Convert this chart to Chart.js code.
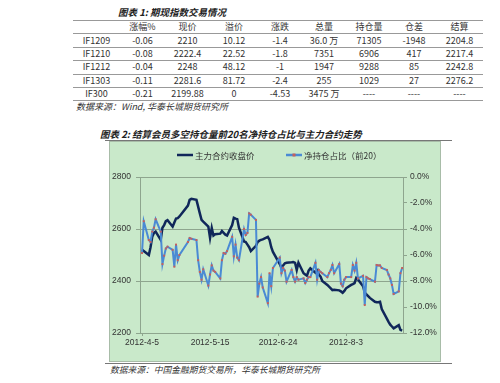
<!DOCTYPE html>
<html>
<head>
<meta charset="utf-8">
<script src="https://cdn.jsdelivr.net/npm/chart.js@4.4.0/dist/chart.umd.min.js"></script>
<style>
    body { margin: 0; width: 500px; height: 383px; background: #fff; position: relative; overflow: hidden;
           font-family: "Noto Sans CJK SC", sans-serif; color: #222; }
    .cap { position: absolute; font-weight: bold; font-style: italic; font-size: 9.5px; white-space: nowrap; line-height: 14px; }
    .src { position: absolute; font-style: italic; font-size: 9px; color: #333; white-space: nowrap; line-height: 12px; }
    table { position: absolute; left: 73px; top: 20px; width: 410px; border-collapse: collapse; table-layout: fixed; font-size: 9px; color: #333; }
    td { height: 12.4px; padding: 0; text-align: center; border-top: 1px solid #999; border-bottom: 1px solid #999; line-height: 12px; white-space: nowrap; }
    .rule { position: absolute; height: 1px; background: #777; }
    #box { position: absolute; left: 109px; top: 141px; width: 330px; height: 219px; background: #c9e9ca; border: 1px solid #a8bca8; }
</style>
</head>
<body>
<div class="cap" style="left:118px; top:5px;">图表 1: 期现指数交易情况</div>
<table>
    <colgroup>
        <col style="width:47px"><col style="width:45px"><col style="width:45px"><col style="width:48px"><col style="width:44px">
        <col style="width:44px"><col style="width:46px"><col style="width:44px"><col style="width:47px">
    </colgroup>
    <tr><td></td><td>涨幅%</td><td>现价</td><td>溢价</td><td>涨跌</td><td>总量</td><td>持仓量</td><td>仓差</td><td>结算</td></tr>
    <tr><td>IF1209</td><td>-0.06</td><td>2210</td><td>10.12</td><td>-1.4</td><td>36.0 万</td><td>71305</td><td>-1948</td><td>2204.8</td></tr>
    <tr><td>IF1210</td><td>-0.08</td><td>2222.4</td><td>22.52</td><td>-1.8</td><td>7351</td><td>6906</td><td>417</td><td>2217.4</td></tr>
    <tr><td>IF1212</td><td>-0.04</td><td>2248</td><td>48.12</td><td>-1</td><td>1947</td><td>9288</td><td>85</td><td>2242.8</td></tr>
    <tr><td>IF1303</td><td>-0.11</td><td>2281.6</td><td>81.72</td><td>-2.4</td><td>255</td><td>1029</td><td>27</td><td>2276.2</td></tr>
    <tr><td>IF300</td><td>-0.21</td><td>2199.88</td><td>0</td><td>-4.53</td><td>3475 万</td><td>----</td><td>----</td><td>----</td></tr>
</table>
<div class="src" style="left:76px; top:101px;">数据来源：Wind, 华泰长城期货研究所</div>

<div class="cap" style="left:100px; top:127px;">图表 2: 结算会员多空持仓量前20名净持仓占比与主力合约走势</div>
<div class="rule" style="left:105px; top:140px; width:347px;"></div>
<div id="box"><canvas id="myChart" width="330" height="219"></canvas></div>
<div class="rule" style="left:105px; top:363px; width:347px;"></div>
<div class="src" style="left:110px; top:364px; font-size:8.75px;">数据来源：中国金融期货交易所，华泰长城期货研究所</div>

<script>
    "use strict";

    // trading days shown on the chart
    const tradeDates = [
        '2012-04-05', '2012-04-06', '2012-04-09', '2012-04-10', '2012-04-11', '2012-04-12', '2012-04-13',
        '2012-04-16', '2012-04-17', '2012-04-18', '2012-04-19', '2012-04-20', '2012-04-23', '2012-04-24',
        '2012-04-25', '2012-04-26', '2012-04-27',
        '2012-05-02', '2012-05-03', '2012-05-04', '2012-05-07', '2012-05-08', '2012-05-09', '2012-05-10',
        '2012-05-11', '2012-05-14', '2012-05-15', '2012-05-16', '2012-05-17', '2012-05-18', '2012-05-21',
        '2012-05-22', '2012-05-23', '2012-05-24', '2012-05-25', '2012-05-28', '2012-05-29', '2012-05-30',
        '2012-05-31',
        '2012-06-01', '2012-06-04', '2012-06-05', '2012-06-06', '2012-06-07', '2012-06-08', '2012-06-11',
        '2012-06-12', '2012-06-13', '2012-06-14', '2012-06-15', '2012-06-18', '2012-06-19', '2012-06-20',
        '2012-06-21', '2012-06-25', '2012-06-26', '2012-06-27', '2012-06-28', '2012-06-29',
        '2012-07-02', '2012-07-03', '2012-07-04', '2012-07-05', '2012-07-06', '2012-07-09', '2012-07-10',
        '2012-07-11', '2012-07-12', '2012-07-13', '2012-07-16', '2012-07-17', '2012-07-18', '2012-07-19',
        '2012-07-20', '2012-07-23', '2012-07-24', '2012-07-25', '2012-07-26', '2012-07-27', '2012-07-30',
        '2012-07-31',
        '2012-08-01', '2012-08-02', '2012-08-03', '2012-08-06', '2012-08-07', '2012-08-08', '2012-08-09',
        '2012-08-10', '2012-08-13', '2012-08-14', '2012-08-15', '2012-08-16', '2012-08-17', '2012-08-20',
        '2012-08-21', '2012-08-22', '2012-08-23', '2012-08-24', '2012-08-27', '2012-08-28', '2012-08-29',
        '2012-08-30', '2012-08-31',
        '2012-09-03', '2012-09-04', '2012-09-05'
    ];

    // 主力合约收盘价 (left axis)
    const closePrices = [
        2520, 2515, 2500, 2530, 2570, 2585, 2590, 2558, 2605, 2615, 2630, 2634, 2609, 2625, 2640, 2642, 2648,
        2690, 2712, 2716, 2712, 2686, 2660, 2635, 2628, 2609, 2566, 2604, 2575, 2580, 2582, 2592, 2585, 2578,
        2575, 2615, 2643, 2640, 2638,
        2605, 2552, 2550, 2540, 2530, 2515, 2535, 2550, 2555, 2558, 2560, 2570, 2558, 2530, 2512, 2465, 2450,
        2460, 2468, 2470,
        2472, 2473, 2470, 2442, 2470, 2430, 2425, 2420, 2440, 2449, 2432, 2440, 2425, 2417, 2400, 2385, 2378,
        2372, 2365, 2366, 2364, 2360,
        2355, 2362, 2372, 2385, 2388, 2392, 2412, 2406, 2380, 2356, 2348, 2342, 2335, 2320, 2318, 2318, 2320,
        2292, 2255, 2243, 2232, 2225, 2218,
        2230, 2212, 2209
    ];

    // 净持仓占比（前20）in percent (right axis)
    const netRatio = [
        -5.85, -3.4, -4.85, -5.0, -4.2, -3.9, -3.25, -4.2, -6.7, -6.05, -5.5, -5.36, -5.6, -6.9, -5.2, -6.4, -6.0,
        -5.0, -4.7, -4.75, -4.85, -6.4, -7.3, -7.9, -7.1, -8.35, -7.5, -6.8, -7.2, -7.3, -7.8, -6.4, -5.85, -5.9,
        -5.7, -4.6, -6.1, -5.2, -6.2,
        -6.4, -4.0, -4.46, -4.3, -2.8, -2.9, -3.3, -9.2, -8.2, -7.7, -8.5, -9.7, -7.4, -8.4, -7.0, -6.2, -7.4,
        -7.0, -7.2, -8.05,
        -7.15, -7.7, -8.05, -7.7, -7.9, -7.8, -8.15, -7.9, -7.7, -7.7, -6.6, -7.9, -7.15, -7.3, -7.4, -7.7, -7.4,
        -7.15, -6.77, -7.4, -6.7, -8.2,
        -8.4, -7.9, -7.7, -7.7, -6.77, -7.2, -6.6, -7.8, -7.6, -9.85, -7.7, -7.8, -7.85, -8.05, -6.77, -6.8, -6.8,
        -7.0, -7.15, -7.5, -7.8, -8.3, -9.0,
        -8.8, -7.4, -7.0
    ];

    const xTickDates = ['2012-04-05', '2012-05-15', '2012-06-24', '2012-08-03'];

    const DAY = 86400000;
    const start = Date.parse(tradeDates[0]);
    const dayOf = s => (Date.parse(s) - start) / DAY;
    const fmtDay = v => {
        const d = new Date(start + v * DAY);
        return d.getUTCFullYear() + '-' + (d.getUTCMonth() + 1) + '-' + d.getUTCDate();
    };

    const gridColor = '#8ea58e';
    const tickFont = { family: 'Liberation Sans', size: 8.5 };

    // legend drawn at fixed spots, like the excel chart
    const keyLegend = {
        id: 'keyLegend',
        afterDraw(chart) {
            const ctx = chart.ctx;
            const xs = [67, 176];
            ctx.save();
            ctx.font = '8.5px "Noto Sans CJK SC"';
            ctx.textBaseline = 'middle';
            chart.data.datasets.forEach((ds, i) => {
                const x = xs[i], y = 13;
                ctx.strokeStyle = ds.borderColor;
                ctx.lineWidth = 2.5;
                ctx.beginPath();
                ctx.moveTo(x, y);
                ctx.lineTo(x + 16, y);
                ctx.stroke();
                if (ds.pointRadius) {
                    ctx.fillStyle = ds.pointBackgroundColor;
                    ctx.fillRect(x + 6.5, y - 1.5, 3, 3);
                }
                ctx.fillStyle = '#333';
                ctx.fillText(ds.label, x + 18, y + 0.5);
            });
            ctx.restore();
        }
    };

    let ctx = document.getElementById('myChart').getContext('2d');
    let chart = new Chart(ctx, {
        type: 'line',
        data: {
            datasets: [
                {
                    label: '主力合约收盘价',
                    data: tradeDates.map((d, i) => ({ x: dayOf(d), y: closePrices[i] })),
                    yAxisID: 'y',
                    borderColor: '#10275a',
                    backgroundColor: '#10275a',
                    borderWidth: 2.5,
                    pointRadius: 0,
                    tension: 0,
                    order: 2
                },
                {
                    label: '净持仓占比（前20）',
                    data: tradeDates.map((d, i) => ({ x: dayOf(d), y: netRatio[i] })),
                    yAxisID: 'y1',
                    borderColor: '#4a8ad4',
                    backgroundColor: '#4a8ad4',
                    borderWidth: 2,
                    pointRadius: 1.4,
                    pointStyle: 'rect',
                    pointBackgroundColor: '#c65f5c',
                    pointBorderWidth: 0,
                    tension: 0,
                    order: 1
                }
            ]
        },
        options: {
            responsive: false,
            animation: false,
            layout: { padding: { top: 35 } },
            plugins: {
                legend: { display: false },
                tooltip: { enabled: false }
            },
            scales: {
                x: {
                    type: 'linear',
                    min: -1.2,
                    max: 153.5,
                    afterBuildTicks: s => { s.ticks = xTickDates.map(d => ({ value: dayOf(d) })); },
                    afterFit: s => { s.height = 28; },
                    ticks: { callback: v => fmtDay(v), font: tickFont, color: '#333', padding: 2, maxRotation: 0, autoSkip: false },
                    grid: { drawOnChartArea: false, tickLength: 3, color: gridColor },
                    border: { color: gridColor }
                },
                y: {
                    position: 'left',
                    min: 2200,
                    max: 2800,
                    afterFit: s => { s.width = 30; },
                    ticks: { stepSize: 200, callback: v => String(v), font: tickFont, color: '#333', padding: 5 },
                    grid: { color: gridColor, tickLength: 4 },
                    border: { color: gridColor }
                },
                y1: {
                    position: 'right',
                    min: -12,
                    max: 0,
                    afterFit: s => { s.width = 37; },
                    ticks: { stepSize: 2, callback: v => v.toFixed(1) + '%', font: tickFont, color: '#333', padding: 3 },
                    grid: { drawOnChartArea: false, tickLength: 4, color: gridColor },
                    border: { color: gridColor }
                }
            }
        },
        plugins: [keyLegend]
    });
</script>
</body>
</html>
